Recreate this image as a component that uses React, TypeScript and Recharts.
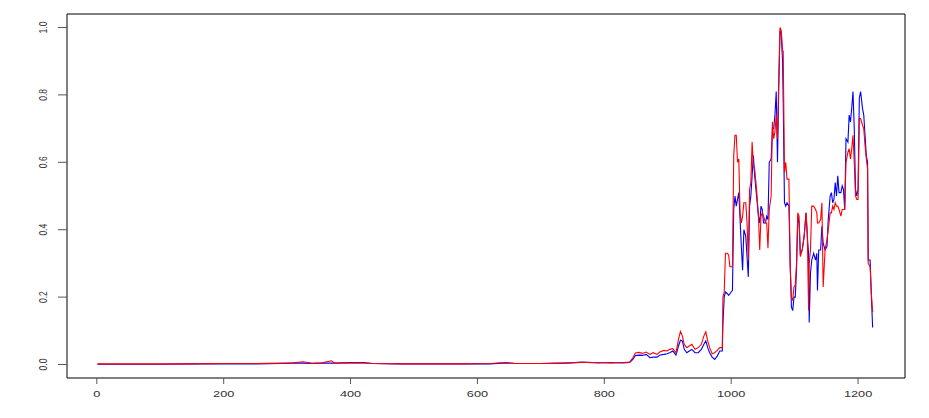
import { LineChart, Line, XAxis, YAxis, ReferenceArea } from "recharts";

// index of each sampled point (x axis)
const xs = [
  1, 50, 100, 150, 200, 250, 290, 310, 325, 340, 355, 370, 375, 400, 420, 435, 480, 530, 580, 620,
  645, 660, 700, 740, 765, 790, 810, 830, 840, 845, 849, 855, 860, 866, 872, 877, 883, 888, 894, 899,
  903, 908, 913, 917, 920, 923, 926, 930, 934, 938, 943, 948, 953, 957, 960, 963, 966, 970, 974, 978,
  982, 986, 987, 989, 991, 994, 996, 998, 1002, 1004, 1006, 1008, 1010, 1012, 1014, 1016, 1018, 1020, 1023, 1025,
  1027, 1029, 1031, 1033, 1035, 1037, 1040, 1043, 1045, 1047, 1049, 1051, 1054, 1056, 1058, 1060, 1063, 1065, 1067, 1069,
  1071, 1073, 1075, 1077, 1079, 1081, 1082, 1084, 1086, 1088, 1091, 1093, 1095, 1097, 1099, 1101, 1103, 1105, 1107, 1109,
  1112, 1115, 1118, 1120, 1122, 1123, 1125, 1127, 1130, 1133, 1135, 1136, 1138, 1141, 1143, 1145, 1148, 1151, 1153, 1156,
  1158, 1160, 1162, 1164, 1166, 1168, 1170, 1173, 1175, 1177, 1179, 1181, 1184, 1186, 1188, 1190, 1192, 1194, 1196, 1198,
  1200, 1202, 1204, 1207, 1209, 1211, 1213, 1215, 1216, 1219, 1221, 1223,
];

const redVals = [
  0.002, 0.002, 0.002, 0.002, 0.003, 0.003, 0.004, 0.005, 0.008, 0.004, 0.005, 0.011, 0.004, 0.004, 0.004, 0.003, 0.002, 0.002, 0.002, 0.003,
  0.006, 0.003, 0.003, 0.005, 0.006, 0.006, 0.005, 0.006, 0.007, 0.02, 0.034, 0.036, 0.033, 0.037, 0.03, 0.035, 0.03, 0.038, 0.042, 0.04,
  0.045, 0.047, 0.035, 0.075, 0.098, 0.085, 0.06, 0.05, 0.055, 0.06, 0.045, 0.05, 0.06, 0.085, 0.097, 0.07, 0.05, 0.032, 0.035, 0.042,
  0.05, 0.05, 0.2, 0.215, 0.33, 0.33, 0.325, 0.29, 0.29, 0.62, 0.68, 0.68, 0.6, 0.61, 0.45, 0.42, 0.44, 0.48, 0.48, 0.42,
  0.31, 0.52, 0.54, 0.66, 0.59, 0.58, 0.52, 0.44, 0.34, 0.44, 0.45, 0.44, 0.42, 0.42, 0.345, 0.46, 0.5, 0.72, 0.67, 0.69,
  0.74, 0.67, 0.85, 1.0, 0.99, 0.93, 0.93, 0.57, 0.6, 0.55, 0.55, 0.29, 0.2, 0.19, 0.23, 0.235, 0.3, 0.45, 0.44, 0.32,
  0.34, 0.38, 0.45, 0.39, 0.16, 0.3, 0.34, 0.47, 0.47, 0.46, 0.45, 0.42, 0.42, 0.43, 0.48, 0.23, 0.34, 0.37, 0.4, 0.45,
  0.45, 0.47, 0.46, 0.48, 0.47, 0.47, 0.46, 0.44, 0.46, 0.46, 0.46, 0.6, 0.63, 0.64, 0.61, 0.64, 0.68, 0.6, 0.5, 0.49,
  0.49, 0.73, 0.73, 0.71, 0.7, 0.65, 0.61, 0.58, 0.3, 0.29, 0.21, 0.155,
];

const blueVals = [
  0.001, 0.001, 0.001, 0.002, 0.002, 0.002, 0.003, 0.004, 0.004, 0.003, 0.004, 0.004, 0.004, 0.006, 0.006, 0.003, 0.002, 0.002, 0.002, 0.002,
  0.005, 0.003, 0.003, 0.004, 0.007, 0.005, 0.006, 0.005, 0.006, 0.015, 0.027, 0.028, 0.027, 0.03, 0.02, 0.022, 0.022, 0.028, 0.03, 0.032,
  0.035, 0.04, 0.028, 0.055, 0.072, 0.07, 0.045, 0.035, 0.04, 0.045, 0.035, 0.035, 0.045, 0.06, 0.07, 0.05, 0.035, 0.022, 0.015, 0.025,
  0.04, 0.04, 0.12, 0.2, 0.215, 0.21, 0.205, 0.21, 0.22, 0.46, 0.5, 0.47, 0.49, 0.51, 0.43, 0.35, 0.28, 0.4, 0.38, 0.32,
  0.26, 0.47, 0.5, 0.56, 0.62, 0.56, 0.5, 0.44, 0.42, 0.47, 0.46, 0.42, 0.42, 0.44, 0.43, 0.6, 0.61, 0.7, 0.7, 0.74,
  0.81, 0.6, 0.82, 0.99, 0.98, 0.9, 0.78, 0.48, 0.47, 0.48, 0.47, 0.3, 0.17, 0.16, 0.2, 0.2, 0.28, 0.44, 0.42, 0.33,
  0.34, 0.38, 0.45, 0.38, 0.33, 0.125, 0.27, 0.31, 0.33, 0.31, 0.33, 0.22, 0.34, 0.34, 0.41, 0.36, 0.34, 0.35, 0.43, 0.5,
  0.51, 0.48, 0.49, 0.54, 0.5, 0.56, 0.51, 0.51, 0.53, 0.52, 0.46, 0.67, 0.66, 0.74, 0.72, 0.76, 0.81, 0.7, 0.52, 0.5,
  0.52, 0.79, 0.81, 0.76, 0.74, 0.68, 0.62, 0.6, 0.31, 0.31, 0.2, 0.11,
];

const xTicks = [0, 200, 400, 600, 800, 1000, 1200];
const yTicks = [0, 0.2, 0.4, 0.6, 0.8, 1.0];

const data = xs.map((x, i) => ({ x, red: redVals[i], blue: blueVals[i] }));

const FONT = "'Liberation Sans', Arial, sans-serif";
const STRETCH = 1.5;

const XTick = ({ x, payload }: any) => (
  <text
    transform={`translate(${x},396.5) scale(${STRETCH},1)`}
    textAnchor="middle"
    fontSize={8.5}
    fontFamily={FONT}
    fill="#333"
  >
    {payload.value}
  </text>
);

const YTick = ({ y, payload }: any) => (
  <text
    transform={`translate(46.5,${y}) scale(1.3,1) rotate(-90)`}
    textAnchor="middle"
    fontSize={8.5}
    fontFamily={FONT}
    fill="#333"
  >
    {Number(payload.value).toFixed(1)}
  </text>
);

export default function App() {
  return (
    <div style={{ position: "absolute", left: 0, top: 0, background: "#fff" }}>
      <LineChart width={929} height={418} data={data} margin={{ top: 14, right: 24, left: 0, bottom: 0 }}>
        <XAxis
          type="number"
          dataKey="x"
          domain={[-47, 1274]}
          ticks={xTicks}
          allowDataOverflow
          axisLine={false}
          tickLine={{ stroke: "#555" }}
          tickSize={6}
          height={40}
          tick={<XTick />}
          interval={0}
        />
        <YAxis
          type="number"
          domain={[-0.04, 1.04]}
          ticks={yTicks}
          allowDataOverflow
          axisLine={false}
          tickLine={{ stroke: "#555" }}
          tickSize={9}
          width={67}
          tick={<YTick />}
          interval={0}
        />
        <ReferenceArea x1={-47} x2={1274} y1={-0.04} y2={1.04} fill="none" stroke="#000" strokeWidth={1} />
        <Line type="linear" dataKey="blue" stroke="#0000ff" strokeWidth={1.1} dot={false} isAnimationActive={false} />
        <Line type="linear" dataKey="red" stroke="#ff0000" strokeWidth={1.1} dot={false} isAnimationActive={false} />
      </LineChart>
    </div>
  );
}
